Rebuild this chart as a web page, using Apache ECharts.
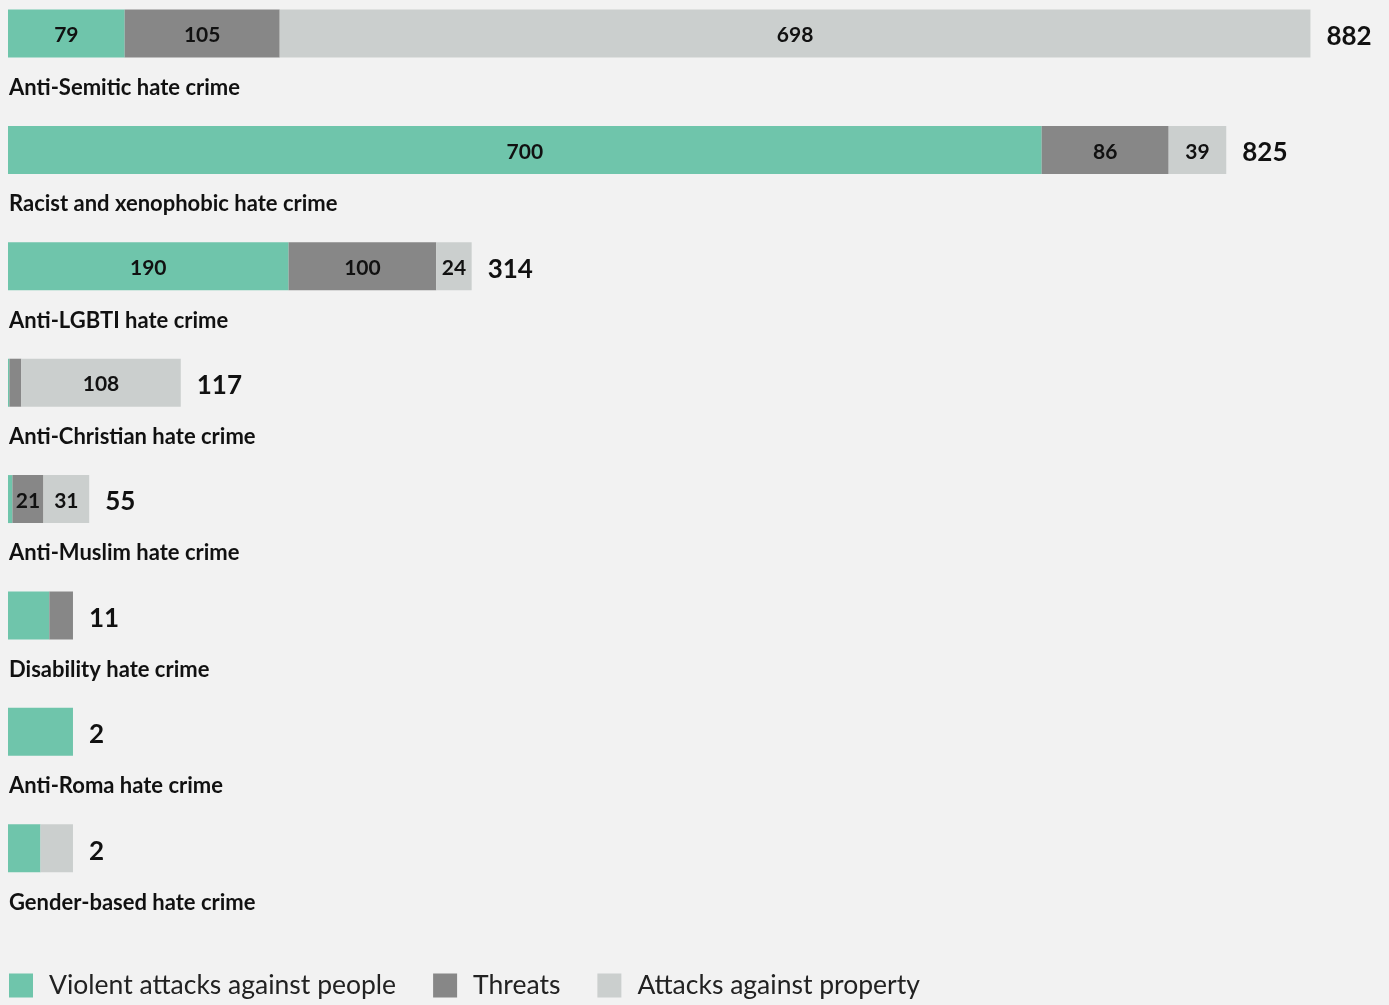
<!DOCTYPE html>
<html>
<head>
<meta charset="utf-8">
<script src="https://cdn.jsdelivr.net/npm/echarts@6/dist/echarts.min.js"></script>
<style>
html,body{margin:0;padding:0;background:#f2f2f2;}
#chart{width:1389px;height:1005px;}
</style>
</head>
<body>
<div id="chart"></div>
<script>
const categories = ['Anti-Semitic hate crime','Racist and xenophobic hate crime','Anti-LGBTI hate crime','Anti-Christian hate crime','Anti-Muslim hate crime','Disability hate crime','Anti-Roma hate crime','Gender-based hate crime'];
const seriesNames = ['Violent attacks against people','Threats','Attacks against property'];
const violent = [79, 700, 190, 1, 3, 7, 2, 1];
const threats = [105, 86, 100, 8, 21, 4, 0, 0];
const property = [698, 39, 24, 108, 31, 0, 0, 1];
const colors = ['#6fc5ab', '#878787', '#cbcfce'];

const MIN_TOTAL = 44; // small bars drawn with a minimum length, as in the reference
const raw = [violent, threats, property];
const totals = categories.map((c, i) => violent[i] + threats[i] + property[i]);
const factors = totals.map(t => t < MIN_TOTAL ? MIN_TOTAL / t : 1);
const display = raw.map(arr => arr.map((v, i) => v * factors[i]));

const FONT = 'Lato, "Noto Sans", sans-serif';
const chart = echarts.init(document.getElementById('chart'));

const series = raw.map((arr, s) => ({
  name: seriesNames[s],
  type: 'bar',
  stack: 'total',
  barWidth: 48,
  itemStyle: { color: colors[s] },
  data: display[s].map((v, i) => ({ value: v, rawValue: arr[i] })),
  label: {
    show: true,
    position: 'inside',
    offset: [0, 2],
    fontFamily: FONT,
    fontWeight: 'bold',
    fontSize: 21,
    color: '#111',
    formatter: p => (p.data.rawValue >= 10 ? String(p.data.rawValue) : '')
  }
}));
series.push({
  name: 'total',
  type: 'bar',
  stack: 'total',
  barWidth: 48,
  itemStyle: { color: 'transparent' },
  data: totals.map(t => ({ value: 0, total: t })),
  label: {
    show: true,
    position: 'right',
    distance: 16,
    offset: [0, 3],
    fontFamily: FONT,
    fontWeight: 'bold',
    fontSize: 26,
    color: '#111',
    formatter: p => String(p.data.total)
  }
});
// empty spacer stack: pushes the visible bar to the upper part of each band
series.push({
  name: 'spacer',
  type: 'bar',
  stack: 'spacer',
  barWidth: 48,
  barGap: '4.17%',
  silent: true,
  itemStyle: { color: 'transparent' },
  data: categories.map(() => 0)
});

chart.setOption({
  backgroundColor: '#f2f2f2',
  animation: false,
  grid: { left: 8, top: 0, width: 1329, height: 931.4, containLabel: false },
  xAxis: { type: 'value', min: 0, max: 900, show: false },
  yAxis: {
    type: 'category',
    inverse: true,
    data: categories,
    axisLine: { show: false },
    axisTick: { show: false },
    splitLine: { show: false },
    z: 10,
    axisLabel: {
      interval: 0,
      inside: true,
      align: 'left',
      verticalAlign: 'middle',
      margin: 1,
      lineHeight: 58.6,
      formatter: v => '\n' + v,
      fontFamily: FONT,
      fontWeight: 'bold',
      fontSize: 22,
      color: '#111'
    }
  },
  legend: {
    data: seriesNames,
    left: 4,
    top: 967,
    itemWidth: 24,
    itemHeight: 24,
    itemGap: 37,
    icon: 'rect',
    textStyle: {
      fontFamily: FONT,
      fontSize: 26.5,
      color: '#222',
      padding: [6, 0, 0, 11]
    }
  },
  series: series
});
</script>
</body>
</html>
